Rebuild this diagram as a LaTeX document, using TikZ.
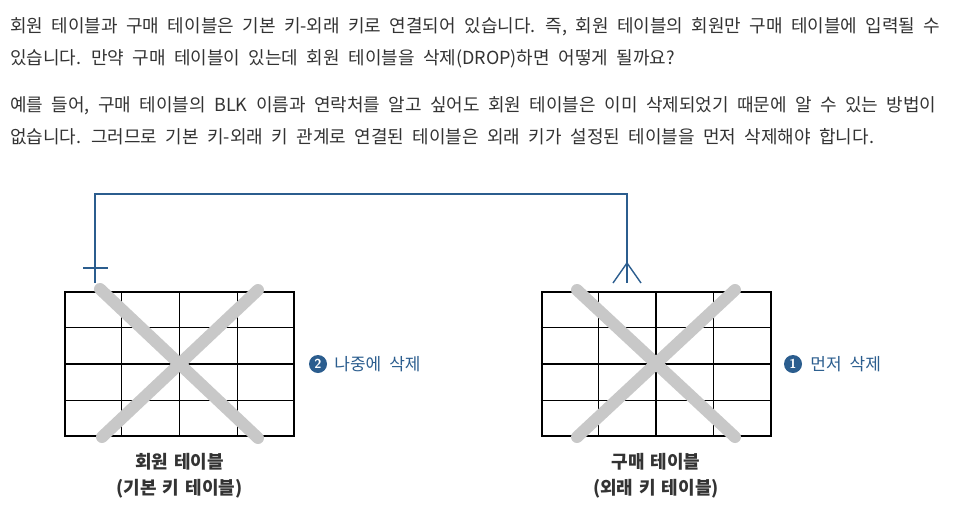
\documentclass[tikz,border=0pt]{standalone}
\usepackage{fontspec}
\newfontfamily\kr{Noto Sans CJK KR}
\usetikzlibrary{positioning,calc}
\definecolor{fkblue}{HTML}{2B5D8E}
\definecolor{inkgray}{HTML}{333333}
\definecolor{crossgray}{HTML}{C8C8C8}
\newcommand\bodyfont{\kr\fontsize{18}{20}\selectfont\spaceskip=8.4pt\relax}
\newcommand\notefont{\kr\fontsize{17}{20}\selectfont\spaceskip=8pt\relax}
\newcommand\capfont{\kr\bfseries\fontsize{18}{26}\selectfont\spaceskip=6pt\relax}
\begin{document}
\begin{tikzpicture}[x=1pt,y=-1pt] % pixel-like units, y grows downward
\tikzset{body/.style={anchor=base west,inner sep=0pt,text=inkgray,font=\bodyfont}} % paragraph lines
\tikzset{tablebox/.style={draw=black,line width=2pt,minimum width=229pt,minimum height=144pt,inner sep=0pt}}
\tikzset{gridline/.style={draw=black,line width=1.4pt}}
\tikzset{cross/.style={draw=crossgray,line width=12pt,line cap=round}}
\tikzset{fkline/.style={draw=fkblue,line width=1.4pt}}
\tikzset{numdot/.style={circle,fill=fkblue,text=white,inner sep=0pt,minimum size=18pt,font=\sffamily\bfseries\fontsize{13}{13}\selectfont}}
\tikzset{note/.style={text=fkblue,inner sep=0pt,font=\notefont}}
\tikzset{caption/.style={text=inkgray,align=center,inner sep=0pt,font=\capfont}}
\useasboundingbox (0,0) rectangle (955,512);
% text above the picture
\node[body] (l1) at (10,32) {회원 테이블과 구매 테이블은 기본 키-외래 키로 연결되어 있습니다. 즉, 회원 테이블의 회원만 구매 테이블에 입력될 수};
\node[body] (l2) at (10,64) {있습니다. 만약 구매 테이블이 있는데 회원 테이블을 삭제(DROP)하면 어떻게 될까요?};
\node[body] (l3) at (10,111) {예를 들어, 구매 테이블의 BLK 이름과 연락처를 알고 싶어도 회원 테이블은 이미 삭제되었기 때문에 알 수 있는 방법이};
\node[body] (l4) at (10,143) {없습니다. 그러므로 기본 키-외래 키 관계로 연결된 테이블은 외래 키가 설정된 테이블을 먼저 삭제해야 합니다.};
% the two tables
\node[tablebox] (member) at (179.5,364) {};
\node[tablebox] (buy) at (656,364) {};
\foreach \t in {member,buy}{
  \foreach \i in {1,2,3}{
    \draw[gridline] ($(\t.north west)!\i/4!(\t.north east)$) -- ($(\t.south west)!\i/4!(\t.south east)$);
    \draw[gridline] ($(\t.north west)!\i/4!(\t.south west)$) -- ($(\t.north east)!\i/4!(\t.south east)$);
  }
}
% crossed out
\draw[cross] (100,289) -- (258,438) (258,290) -- (102,437);
\draw[cross] (577,290) -- (735,437) (735,290) -- (577,437);
% primary key - foreign key relation
\coordinate (pkend) at (95,283);
\coordinate (fkend) at (627,283);
\draw[fkline] (pkend) -- ++(0,-89) -| (fkend);
\draw[fkline] ($(pkend)+(-12,-15)$) -- ++(25,0); % one
\draw[fkline] ($(fkend)+(-14,0)$) -- ++(14,-20) -- ++(14,20); % many
% order of deleting
\node[numdot] (n2) at (318,364) {2};
\node[note,right=7pt of n2] (later) {나중에 삭제};
\node[numdot] (n1) at (793,364) {1};
\node[note,right=8pt of n1] (first) {먼저 삭제};
% table names
\node[caption,below=16pt of member] (membername) {회원 테이블\\(기본 키 테이블)};
\node[caption,below=16pt of buy] (buyname) {구매 테이블\\(외래 키 테이블)};
\end{tikzpicture}
\end{document}
